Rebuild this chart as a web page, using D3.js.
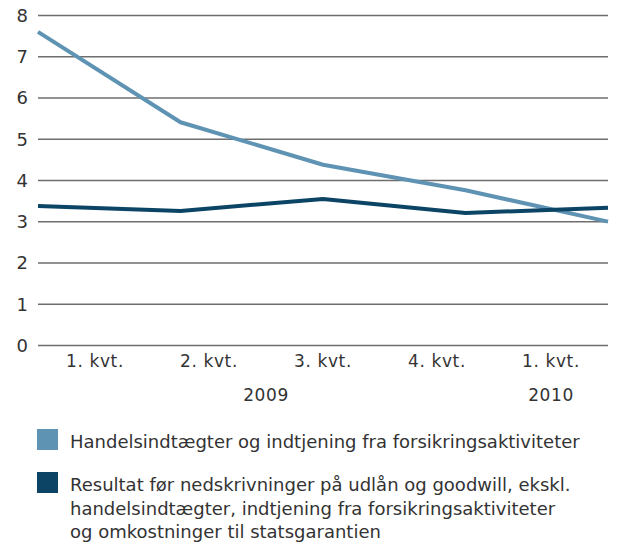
<!DOCTYPE html>
<html>
<head>
<meta charset="utf-8">
<title>Handelsindtægter</title>
<script src="https://d3js.org/d3.v7.min.js"></script>
<style>
  body { margin: 0; background: #fff; }
  text { font-family: "DejaVu Sans", sans-serif; fill: #333; }
</style>
</head>
<body>
<svg width="617" height="547"></svg>
<script>
    const quarters = ["1. kvt.", "2. kvt.", "3. kvt.", "4. kvt.", "1. kvt."];
    const years = [
        {label: "2009", from: 0, to: 3},
        {label: "2010", from: 4, to: 4}
    ];
    const handel = [7.59, 5.40, 4.37, 3.75, 2.99];
    const resultat = [3.37, 3.25, 3.54, 3.20, 3.33];
    const yTicks = [0, 1, 2, 3, 4, 5, 6, 7, 8];
    const legendLabels = [
        ["Handelsindtægter og indtjening fra forsikringsaktiviteter"],
        ["Resultat før nedskrivninger på udlån og goodwill, ekskl.",
         "handelsindtægter, indtjening fra forsikringsaktiviteter",
         "og omkostninger til statsgarantien"]
    ];
    const colors = ["#5f93b3", "#0c4466"];

    const svg = d3.select("svg");
    const plotLeft = 38, plotRight = 608, plotTop = 15, plotBottom = 345;

    const y = d3.scaleLinear().domain([0, 8]).range([plotBottom, plotTop]);
    const xPoint = d3.scalePoint().domain(d3.range(quarters.length)).range([plotLeft, plotRight]);
    const xBand = d3.scaleBand().domain(d3.range(quarters.length)).range([plotLeft, plotRight]);

    // grid lines + y labels
    const yAxis = d3.axisLeft(y).tickValues(yTicks).tickSize(-(plotRight - plotLeft)).tickFormat(d3.format("d"));
    const gy = svg.append("g").attr("transform", `translate(${plotLeft},0)`).call(yAxis);
    gy.select(".domain").remove();
    gy.selectAll(".tick line").attr("stroke", "#6e6e6e").attr("stroke-width", 1.6);
    gy.selectAll(".tick text")
        .attr("x", -10)
        .attr("dy", "0.36em")
        .style("font-family", "'DejaVu Sans', sans-serif")
        .style("font-size", "18px")
        .style("fill", "#333")
        .style("text-anchor", "end");

    // quarter labels
    const xAxis = d3.axisBottom(xBand).tickSize(0).tickFormat(i => quarters[i]);
    const gx = svg.append("g").attr("transform", `translate(0,${plotBottom})`).call(xAxis);
    gx.select(".domain").remove();
    gx.selectAll(".tick text")
        .attr("y", 22)
        .attr("dy", 0)
        .style("font-family", "'DejaVu Sans', sans-serif")
        .style("font-size", "17px")
        .style("letter-spacing", "0.6px")
        .style("fill", "#333");

    // year labels
    svg.selectAll(".year")
        .data(years)
        .enter().append("text")
        .attr("class", "year")
        .attr("x", d => (xBand(d.from) + xBand(d.to) + xBand.bandwidth()) / 2)
        .attr("y", 401)
        .attr("text-anchor", "middle")
        .style("font-size", "17px")
        .style("letter-spacing", "0.6px")
        .text(d => d.label);

    // lines
    const line = d3.line()
        .x((d, i) => xPoint(i))
        .y(d => y(d));

    [handel, resultat].forEach((s, k) => {
        svg.append("path")
            .datum(s)
            .attr("fill", "none")
            .attr("stroke", colors[k])
            .attr("stroke-width", 4)
            .attr("stroke-linejoin", "round")
            .attr("d", line);
    });

    // legend
    const legendBase = [448, 491];
    legendLabels.forEach((lines, k) => {
        svg.append("rect")
            .attr("x", 37)
            .attr("y", legendBase[k] - 19)
            .attr("width", 21)
            .attr("height", 21)
            .attr("fill", colors[k]);
        const t = svg.append("text")
            .attr("x", 70)
            .attr("y", legendBase[k])
            .style("font-size", "18px");
        t.selectAll("tspan")
            .data(lines)
            .enter().append("tspan")
            .attr("x", 70)
            .attr("dy", (d, i) => i === 0 ? 0 : 23.5)
            .text(d => d);
    });
</script>
</body>
</html>
